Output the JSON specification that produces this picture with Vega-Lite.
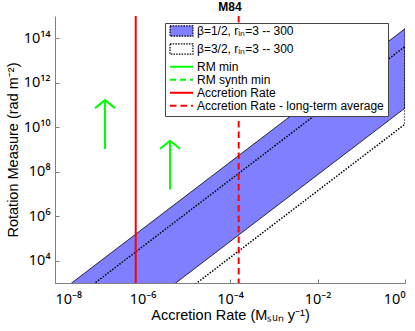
{
  "$schema": "https://vega.github.io/schema/vega-lite/v6.json",
  "width": 350,
  "height": 267,
  "autosize": "none",
  "padding": {"left": 55, "top": 16, "right": 10, "bottom": 48},
  "config": {
    "font": "Liberation Sans",
    "view": {"stroke": null},
    "axis": {"grid": false, "domainColor": "#808080", "tickColor": "#808080", "labelColor": "#000", "titleColor": "#000", "labelFont": "Noto Sans", "labelFontSize": 14.5, "titleFontSize": 14.5, "titleFontWeight": "normal", "tickSize": -4}
  },
  "title": {"text": "M84", "fontSize": 12, "fontWeight": "bold", "offset": 1.5, "frame": "group", "anchor": "middle", "color": "#000"},
  "datasets": {
    "bands": [
      {"series": "β=1/2, rᵢₙ=3 -- 300", "rate": 1e-8, "rm_hi": 269, "rm_lo": 0.0724},
      {"series": "β=1/2, rᵢₙ=3 -- 300", "rate": 1, "rm_hi": 2.69e14, "rm_lo": 7.24e10},
      {"series": "β=3/2, rᵢₙ=3 -- 300", "rate": 1e-8, "rm_hi": 42.7, "rm_lo": 0.0138},
      {"series": "β=3/2, rᵢₙ=3 -- 300", "rate": 1, "rm_hi": 4.27e13, "rm_lo": 1.38e10}
    ],
    "hlines": [
      {"series": "RM min", "rm": 1.6e7},
      {"series": "RM synth min", "rm": 1.05e9}
    ],
    "vlines": [
      {"series": "Accretion Rate", "rate": 7.0e-7},
      {"series": "Accretion Rate - long-term average", "rate": 1.58e-4}
    ],
    "arrows": [
      {"rate": 1.39e-7, "from": 1.05e9, "to": 1.66e11},
      {"rate": 4.26e-6, "from": 1.6e7, "to": 2.48e9}
    ]
  },
  "encoding": {
    "x": {"field": "rate", "type": "quantitative",
      "scale": {"type": "log", "domain": [1e-8, 1], "nice": false},
      "axis": {"values": [1e-8, 1e-6, 1e-4, 1e-2, 1], "labelPadding": 13, "titlePadding": 3,
        "title": "Accretion Rate (Mₛᵤₙ y⁻¹)",
        "labelExpr": "'10' + (round(log(datum.value)/LN10) < 0 ? '⁻' : '') + (abs(round(log(datum.value)/LN10)) >= 10 ? substring('⁰¹²³⁴⁵⁶⁷⁸⁹', floor(abs(round(log(datum.value)/LN10))/10), floor(abs(round(log(datum.value)/LN10))/10)+1) : '') + substring('⁰¹²³⁴⁵⁶⁷⁸⁹', abs(round(log(datum.value)/LN10)) % 10, abs(round(log(datum.value)/LN10)) % 10 + 1)"}}
  },
  "layer": [
    {
      "data": {"name": "bands"},
      "transform": [{"filter": "datum.series == 'β=1/2, rᵢₙ=3 -- 300'"}],
      "mark": {"type": "area", "stroke": "#000", "strokeWidth": 0.8, "clip": true, "opacity": 1},
      "encoding": {
        "y": {"field": "rm_hi", "type": "quantitative",
          "scale": {"type": "log", "domain": [1e3, 1e15], "nice": false},
          "axis": {"values": [1e4, 1e6, 1e8, 1e10, 1e12, 1e14], "labelPadding": 9, "titlePadding": 3,
            "title": "Rotation Measure (rad m⁻²)",
            "labelExpr": "'10' + (round(log(datum.value)/LN10) < 0 ? '⁻' : '') + (abs(round(log(datum.value)/LN10)) >= 10 ? substring('⁰¹²³⁴⁵⁶⁷⁸⁹', floor(abs(round(log(datum.value)/LN10))/10), floor(abs(round(log(datum.value)/LN10))/10)+1) : '') + substring('⁰¹²³⁴⁵⁶⁷⁸⁹', abs(round(log(datum.value)/LN10)) % 10, abs(round(log(datum.value)/LN10)) % 10 + 1)"}},
        "y2": {"field": "rm_lo"},
        "fill": {"field": "series", "type": "nominal",
          "scale": {"domain": ["β=1/2, rᵢₙ=3 -- 300", "β=3/2, rᵢₙ=3 -- 300"], "range": ["#7f7fff", "transparent"]},
          "legend": {
            "title": null, "orient": "none", "legendX": 112, "legendY": 6.5, "zindex": 2,
            "labelFontSize": 12, "labelColor": "#000", "labelLimit": 300, "labelOffset": 3,
            "symbolType": "M-1,-0.45H1V0.45H-1Z", "symbolSize": 529, "symbolStrokeWidth": 1.2, "symbolDash": [1.5, 1.2], "symbolOpacity": 1,
            "clipHeight": 13, "padding": 2, "rowPadding": 5
          }}
      }
    },
    {
      "data": {"name": "bands"},
      "transform": [{"filter": "datum.series == 'β=3/2, rᵢₙ=3 -- 300'"}],
      "mark": {"type": "area", "stroke": "#000", "strokeWidth": 1.5, "strokeDash": [1.5, 1.5], "clip": true, "opacity": 1},
      "encoding": {
        "y": {"field": "rm_hi", "type": "quantitative"},
        "y2": {"field": "rm_lo"},
        "fill": {"field": "series", "type": "nominal"}
      }
    },
    {
      "data": {"name": "hlines"},
      "mark": {"type": "rule", "strokeWidth": 2},
      "encoding": {
        "y": {"field": "rm", "type": "quantitative"},
        "stroke": {"field": "series", "type": "nominal",
          "scale": {"domain": ["RM min", "RM synth min", "Accretion Rate", "Accretion Rate - long-term average"], "range": ["#00ff00", "#00ff00", "#ff0000", "#ff0000"]},
          "legend": {
            "title": ["\u00a0", "\u00a0"], "titleFontSize": 12, "titleLineHeight": 16.5, "titlePadding": 5,
            "orient": "none", "legendX": 110, "legendY": 7, "zindex": 1,
            "labelFontSize": 12, "labelColor": "#000", "labelLimit": 300, "labelOffset": 3,
            "symbolType": "stroke", "symbolSize": 529, "symbolStrokeWidth": 2, "symbolOpacity": 1,
            "clipHeight": 12.5, "padding": 4, "rowPadding": 0,
            "strokeColor": "#444", "fillColor": "#fff"
          }},
        "strokeDash": {"field": "series", "type": "nominal",
          "scale": {"domain": ["RM min", "RM synth min", "Accretion Rate", "Accretion Rate - long-term average"], "range": [[1, 0], [6, 4], [1, 0], [6.5, 4]]},
          "legend": {
            "title": ["\u00a0", "\u00a0"], "titleFontSize": 12, "titleLineHeight": 16.5, "titlePadding": 5,
            "orient": "none", "legendX": 110, "legendY": 7, "zindex": 1,
            "labelFontSize": 12, "labelColor": "#000", "labelLimit": 300, "labelOffset": 3,
            "symbolType": "stroke", "symbolSize": 529, "symbolStrokeWidth": 2, "symbolOpacity": 1,
            "clipHeight": 12.5, "padding": 4, "rowPadding": 0,
            "strokeColor": "#444", "fillColor": "#fff"
          }}
      }
    },
    {
      "data": {"name": "arrows"},
      "mark": {"type": "rule", "strokeWidth": 2, "color": "#00ff00"},
      "encoding": {
        "y": {"field": "from", "type": "quantitative"},
        "y2": {"field": "to"}
      }
    },
    {
      "data": {"name": "arrows"},
      "mark": {"type": "point", "shape": "M-1,0.8L0,0L1,0.8", "filled": false, "stroke": "#00ff00", "strokeWidth": 2, "size": 400, "opacity": 1},
      "encoding": {
        "y": {"field": "to", "type": "quantitative"}
      }
    },
    {
      "data": {"name": "vlines"},
      "mark": {"type": "rule", "strokeWidth": 2},
      "encoding": {
        "stroke": {"field": "series", "type": "nominal"},
        "strokeDash": {"field": "series", "type": "nominal"}
      }
    }
  ]
}
